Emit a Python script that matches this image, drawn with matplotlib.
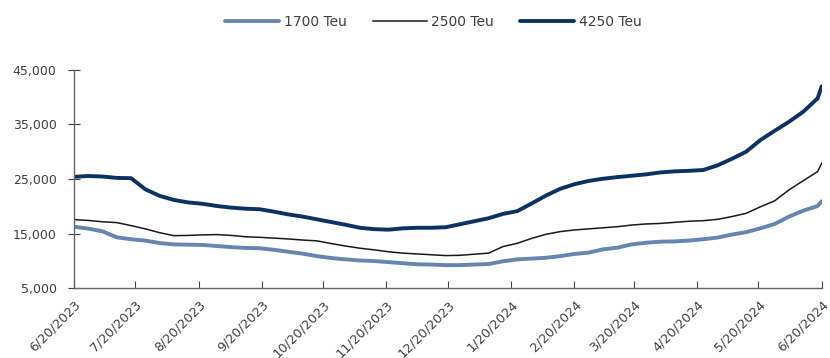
import matplotlib
matplotlib.use("Agg")
import matplotlib.pyplot as plt
from matplotlib.ticker import FuncFormatter
import pandas as pd

# weekly observations, last point on 6/20/2024
dates = list(pd.date_range("2023-06-20", periods=53, freq="7D")) + [pd.Timestamp("2024-06-20")]

teu_1700 = [16250, 15900, 15400, 14300, 13950, 13700, 13250, 13000, 12950, 12900,
            12700, 12500, 12350, 12300, 12000, 11650, 11300, 10850, 10500, 10250,
            10050, 9950, 9750, 9550, 9350, 9300, 9200, 9200, 9300, 9400,
            9900, 10250, 10400, 10550, 10850, 11250, 11500, 12100, 12400, 13000,
            13300, 13500, 13550, 13700, 13950, 14250, 14800, 15250, 15950, 16750,
            18100, 19200, 20050, 20900]
teu_2500 = [17550, 17400, 17150, 17000, 16450, 15850, 15150, 14600, 14650, 14750,
            14800, 14650, 14400, 14300, 14150, 14000, 13800, 13650, 13150, 12700,
            12300, 12000, 11650, 11400, 11250, 11100, 10950, 11000, 11200, 11400,
            12600, 13200, 14100, 14850, 15350, 15650, 15850, 16050, 16250, 16550,
            16750, 16850, 17050, 17250, 17350, 17600, 18100, 18700, 19900, 21000,
            23000, 24700, 26350, 27900]
teu_4250 = [25400, 25550, 25450, 25200, 25150, 23100, 21900, 21150, 20700, 20450,
            20050, 19750, 19550, 19450, 19000, 18500, 18100, 17600, 17100, 16600,
            16050, 15800, 15700, 15950, 16050, 16050, 16150, 16700, 17250, 17800,
            18600, 19100, 20500, 21950, 23200, 24050, 24650, 25050, 25350, 25600,
            25850, 26200, 26400, 26500, 26650, 27500, 28700, 30000, 32150, 33850,
            35500, 37350, 39800, 42000]

tick_labels = ["6/20/2023", "7/20/2023", "8/20/2023", "9/20/2023", "10/20/2023",
               "11/20/2023", "12/20/2023", "1/20/2024", "2/20/2024", "3/20/2024",
               "4/20/2024", "5/20/2024", "6/20/2024"]
tick_dates = pd.to_datetime(tick_labels, format="%m/%d/%Y")

plt.rcParams['font.family'] = ['DejaVu Sans']
fig = plt.figure(figsize=(8.3, 3.58), dpi=100)
ax = fig.add_axes([0.089, 0.1955, 0.901, 0.609])

ax.plot(dates, teu_1700, color='#6586b2', lw=2.8, label='1700 Teu', solid_capstyle='round')
ax.plot(dates, teu_2500, color='#1a1a1a', lw=1.1, label='2500 Teu')
ax.plot(dates, teu_4250, color='#0b3262', lw=2.8, label='4250 Teu', solid_capstyle='round')

ax.set_xlim(pd.Timestamp("2023-06-20"), pd.Timestamp("2024-06-20"))
ax.set_ylim(5000, 45000)
ax.set_yticks([5000, 15000, 25000, 35000, 45000])
ax.yaxis.set_major_formatter(FuncFormatter(lambda v, p: f"{v:,.0f}"))
ax.set_xticks(tick_dates)
ax.set_xticklabels(tick_labels, rotation=45, ha='right', rotation_mode='anchor')

for s in ['top', 'right']:
    ax.spines[s].set_visible(False)
for s in ['left', 'bottom']:
    ax.spines[s].set_color('#666666')
    ax.spines[s].set_linewidth(1.0)
ax.tick_params(axis='y', direction='inout', length=9, color='#444444', labelsize=9,
               labelcolor='#404040', pad=8)
ax.tick_params(axis='x', direction='in', length=5, color='#444444', labelsize=9.3,
               labelcolor='#404040', pad=7.5)

fig.legend(loc='center', bbox_to_anchor=(0.522, 0.938), ncol=3, frameon=False,
           fontsize=10, handlelength=3.9, handletextpad=0.3, columnspacing=1.9,
           labelcolor='#404040')

plt.savefig("out.png", dpi=100)
